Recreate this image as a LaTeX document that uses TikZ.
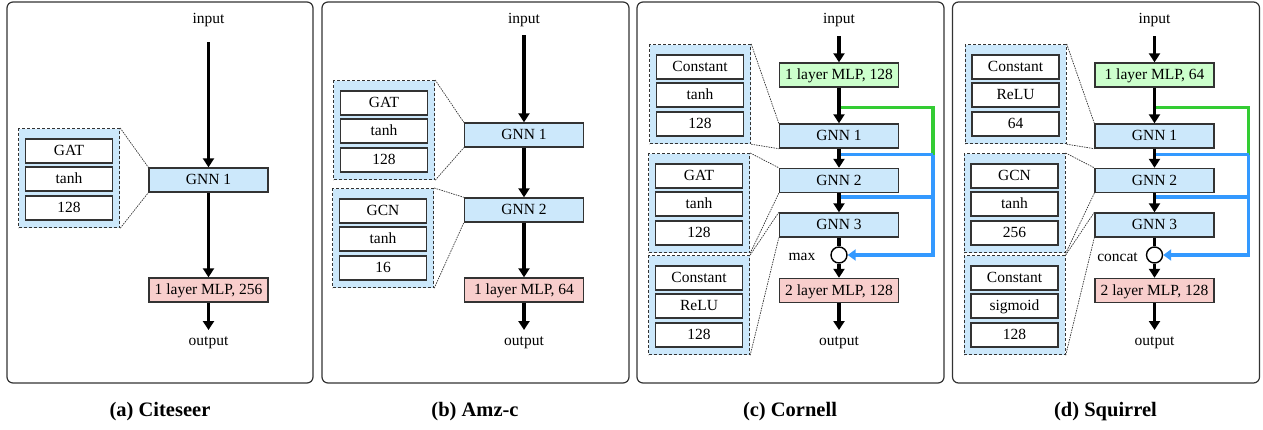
\documentclass[tikz,border=0pt]{standalone}
\usepackage{fontspec}
\setmainfont{Liberation Serif}
\usetikzlibrary{arrows.meta}
\definecolor{gblue}{HTML}{CCE8FB}
\definecolor{mpink}{HTML}{F8CECC}
\definecolor{mgreen}{HTML}{CCFFCC}
\definecolor{skipblue}{HTML}{3399FF}
\definecolor{skipgreen}{HTML}{33CC33}
\definecolor{edge}{HTML}{333333}
\tikzset{
 txt/.style={font=\fontsize{15.5}{18}\selectfont, inner sep=0pt},
 box/.style={txt, draw=edge, line width=1.4pt, minimum width=119pt, minimum height=24pt, text height=11pt, text depth=2pt},
 gnnbox/.style={box, fill=gblue},
 headbox/.style={box, fill=mpink},
 encbox/.style={box, fill=mgreen},
 grpbox/.style={draw=edge, fill=gblue, line width=1.2pt, dash pattern=on 3pt off 2pt, minimum width=101pt, minimum height=99pt, inner sep=0pt, anchor=north west},
 cellbox/.style={txt, draw=edge, fill=white, line width=1.5pt, minimum width=87pt, minimum height=24pt, text height=11pt, text depth=2pt},
 link/.style={draw=edge, line width=0.7pt, dash pattern=on 1.5pt off 1pt},
 flow/.style={line width=3.5pt, -{Triangle[width=11pt,length=9pt]}},
 plainflow/.style={line width=3.5pt},
 gskip/.style={draw=skipgreen, line width=3.3pt},
 bskip/.style={draw=skipblue, line width=3.3pt},
 bskiparrow/.style={bskip, -{Triangle[width=11pt,length=8pt]}},
 agg/.style={circle, draw=black, fill=white, line width=1.4pt, minimum size=16pt, inner sep=0pt},
 panel/.style={draw=edge, line width=1.2pt, rounded corners=6pt},
 caption/.style={font=\fontsize{20.5}{24}\selectfont\bfseries, inner sep=0pt},
}
\newcommand\paramgroup[6]{%
 \node[grpbox] (#1) at (#2,#3) {};
 \node[cellbox] (#1a) at ({#2+51},{#3+23}) {#4};
 \node[cellbox] (#1b) at ({#2+51},{#3+51}) {#5};
 \node[cellbox] (#1c) at ({#2+51},{#3+80}) {#6};
}
\newcommand\deeppanel[6]{%
 \draw[panel] (7,2) rectangle (314,383);
 \node[txt] (in) at (209,20) {input};
 \coordinate (s) at (209,36);
 \node[encbox] (enc) at (209,75) {#1};
 \node[gnnbox] (g1) at (209,136) {GNN 1};
 \node[gnnbox] (g2) at (209,180.5) {GNN 2};
 \node[gnnbox] (g3) at (209,225) {GNN 3};
 \node[agg] (agg) at (209,255) {};
 \node[txt] (aggl) at (172,257) {#2};
 \node[headbox] (head) at (209,290.5) {2 layer MLP, 128};
 \coordinate (e) at (209,330);
 \node[txt] (out) at (209,343) {output};
 \coordinate (t1) at (209,107.5);
 \coordinate (t2) at (209,154.5);
 \coordinate (t3) at (209,197);
 \coordinate (j1) at (303,154.5);
 \coordinate (j2) at (303,197);
 \paramgroup{p1}{19}{44}#3
 \paramgroup{p2}{18}{153}#4
 \paramgroup{p3}{18}{255}#5
 \draw[link] (p1.north east) -- (g1.north west) (p1.south east) -- (g1.south west);
 \draw[link] (p2.north east) -- (g2.north west) (p2.south east) -- (g2.south west);
 \draw[link] (p3.north east) -- (g3.north west) (p3.south east) -- (g3.south west);
 \draw[gskip] (t1) -| (j1);
 \draw[bskip] (t2) -- (j1);
 \draw[bskip] (t3) -- (j2);
 \draw[bskiparrow] (j1) |- (agg);
 \draw[flow] (s) -- (enc);
 \draw[flow] (enc) -- (g1);
 \draw[flow] (g1) -- (g2);
 \draw[flow] (g2) -- (g3);
 \draw[plainflow] (g3) -- (agg);
 \draw[flow] (agg) -- (head);
 \draw[flow] (head) -- (e);
 \node[caption] (cap) at (160,412) {#6};
}
\begin{document}
\begin{tikzpicture}[x=1pt,y=-1pt]
\useasboundingbox (0,0) rectangle (1263,429);
\fill[white] (0,0) rectangle (1263,429);
% (a)
\begin{scope}[name prefix=a-]
 \draw[panel] (7,2) rectangle (313,383);
 \node[txt] (in) at (208.5,20) {input};
 \coordinate (s) at (208.5,42);
 \node[gnnbox] (g1) at (208.5,180) {GNN 1};
 \node[headbox] (head) at (208.5,290) {1 layer MLP, 256};
 \coordinate (e) at (208.5,330);
 \node[txt] (out) at (208.5,343) {output};
 \paramgroup{p1}{18}{128}{GAT}{tanh}{128}
 \draw[link] (p1.north east) -- (g1.north west) (p1.south east) -- (g1.south west);
 \draw[flow] (s) -- (g1);
 \draw[flow] (g1) -- (head);
 \draw[flow] (head) -- (e);
 \node[caption] (cap) at (160,412) {(a) Citeseer};
\end{scope}
% (b)
\begin{scope}[shift={(315,0)}, name prefix=b-]
 \draw[panel] (7,2) rectangle (314,383);
 \node[txt] (in) at (209,20) {input};
 \coordinate (s) at (209,35);
 \node[gnnbox] (g1) at (209,135) {GNN 1};
 \node[gnnbox] (g2) at (209,210) {GNN 2};
 \node[headbox] (head) at (209,290) {1 layer MLP, 64};
 \coordinate (e) at (209,330);
 \node[txt] (out) at (209,343) {output};
 \paramgroup{p1}{18}{80}{GAT}{tanh}{128}
 \paramgroup{p2}{17}{188}{GCN}{tanh}{16}
 \draw[link] (p1.north east) -- (g1.north west) (p1.south east) -- (g1.south west);
 \draw[link] (p2.north east) -- (g2.north west) (p2.south east) -- (g2.south west);
 \draw[flow] (s) -- (g1);
 \draw[flow] (g1) -- (g2);
 \draw[flow] (g2) -- (head);
 \draw[flow] (head) -- (e);
 \node[caption] (cap) at (160,412) {(b) Amz-c};
\end{scope}
% (c)
\begin{scope}[shift={(630,0)}, name prefix=c-]
 \deeppanel{1 layer MLP, 128}{max}{{Constant}{tanh}{128}}{{GAT}{tanh}{128}}{{Constant}{ReLU}{128}}{(c) Cornell}
\end{scope}
% (d)
\begin{scope}[shift={(945.5,0)}, name prefix=d-]
 \deeppanel{1 layer MLP, 64}{concat}{{Constant}{ReLU}{64}}{{GCN}{tanh}{256}}{{Constant}{sigmoid}{128}}{(d) Squirrel}
\end{scope}
\end{tikzpicture}
\end{document}
